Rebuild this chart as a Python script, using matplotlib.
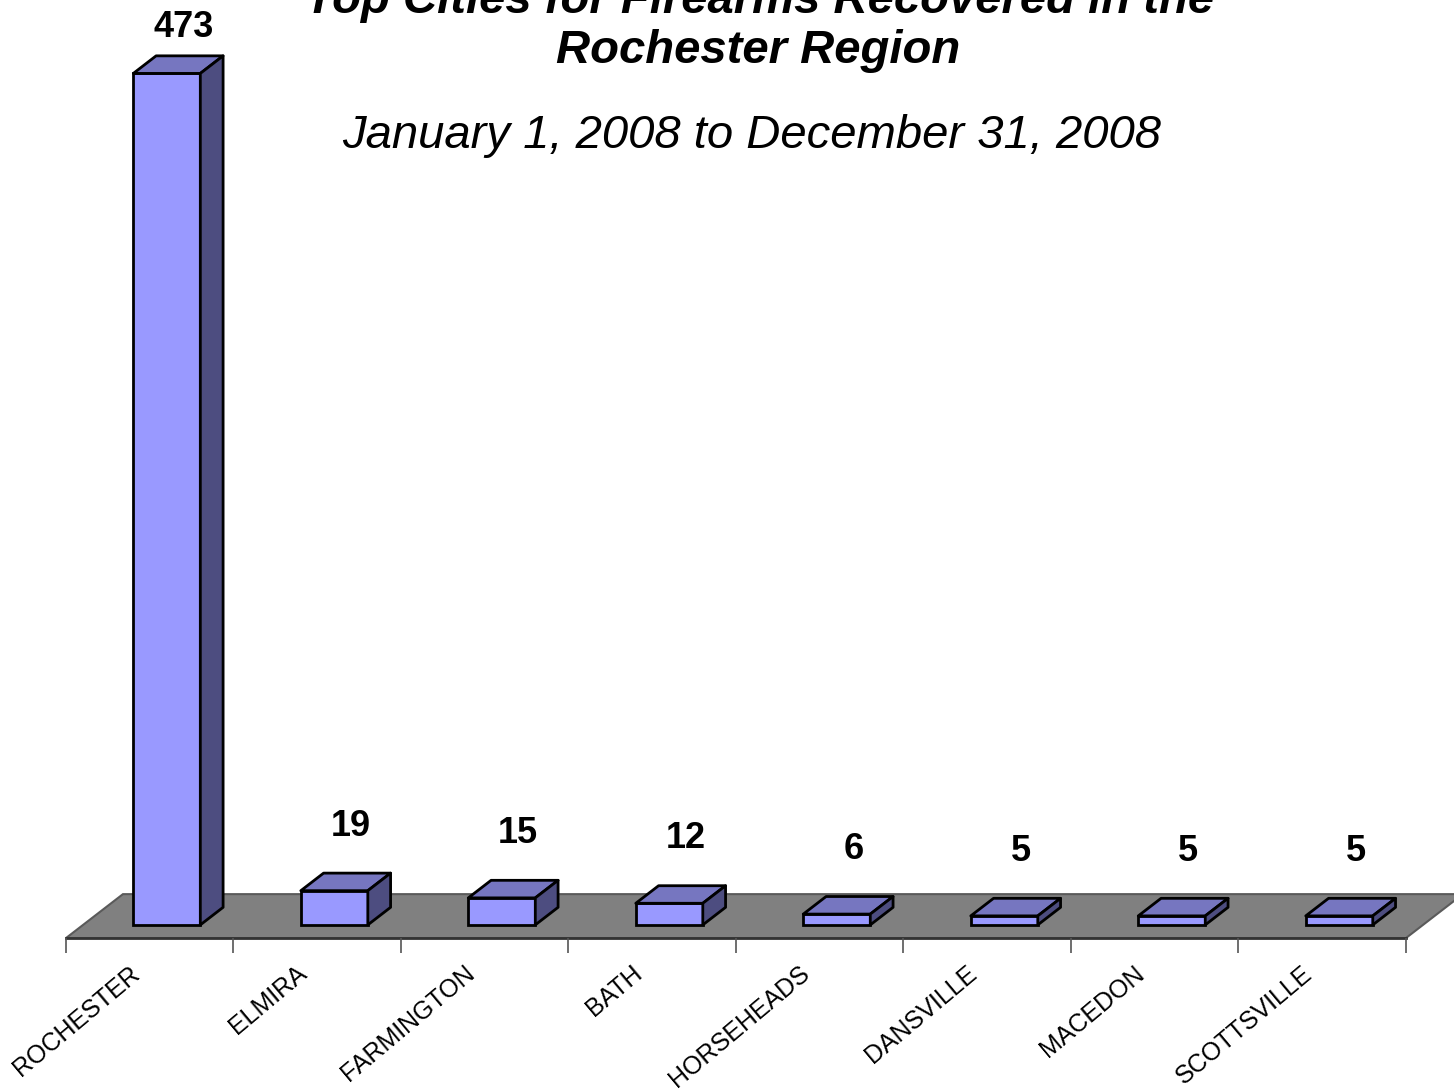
import numpy as np
import matplotlib.pyplot as plt
from matplotlib.patches import Polygon

plt.rcParams['font.family'] = ['Liberation Sans', 'DejaVu Sans']

cities = ['ROCHESTER', 'ELMIRA', 'FARMINGTON', 'BATH',
          'HORSEHEADS', 'DANSVILLE', 'MACEDON', 'SCOTTSVILLE']
firearms = [473, 19, 15, 12, 6, 5, 5, 5]

title_lines = ['Top Cities for Firearms Recovered in the', 'Rochester Region']
subtitle = 'January 1, 2008 to December 31, 2008'

# fake 3D: depth moves things right/up
DX, DY = 0.34, 24.4      # full floor depth, in data units
z_front, z_depth = 0.30, 0.40
bar_w = 0.40

fig = plt.figure(figsize=(14.54, 10.90), dpi=100)
ax = fig.add_axes([0, 0, 1, 1])
ymin, ymax = -84.4, 521.1
ax.set_xlim(-0.894, 7.787)
ax.set_ylim(ymin, ymax)
ax.axis('off')

n = len(cities)
x = np.arange(n)

# floor
floor = Polygon([(-0.5, 0), (n - 0.5, 0), (n - 0.5 + DX, DY), (-0.5 + DX, DY)],
                closed=True, facecolor='#808080', edgecolor='#5a5a5a', lw=1.5, zorder=1)
ax.add_patch(floor)
ax.plot([-0.5, n - 0.5], [0, 0], color='#333333', lw=2, zorder=2)

# category ticks and labels
ax.vlines(np.arange(n + 1) - 0.5, -8.5, 0, color='#555555', lw=1.2, zorder=2)
for xi, name in zip(x, cities):
    ax.text(xi - 0.08, -18, name, rotation=40, rotation_mode='anchor',
            ha='right', va='center', fontsize=18, zorder=3)

# bars: front face, top, side
fx = x + z_front * DX
fy = z_front * DY
ddx, ddy = z_depth * DX, z_depth * DY
ax.bar(fx, firearms, width=bar_w, bottom=fy, color='#9999ff',
       edgecolor='black', lw=2, zorder=4)
for xc, v in zip(fx, firearms):
    l, r = xc - bar_w / 2, xc + bar_w / 2
    top = fy + v
    ax.add_patch(Polygon([(l, top), (r, top), (r + ddx, top + ddy), (l + ddx, top + ddy)],
                         closed=True, facecolor='#7676c0', edgecolor='black', lw=2,
                         joinstyle='round', zorder=4))
    ax.add_patch(Polygon([(r, fy), (r + ddx, fy + ddy), (r + ddx, top + ddy), (r, top)],
                         closed=True, facecolor='#4d4d80', edgecolor='black', lw=2,
                         joinstyle='round', zorder=4))
    # label above the bar, kept inside the figure for the tall one
    ly = min(top + ddy + 26, ymax - 15.5)
    ax.text(xc + ddx / 2 + 0.03, ly, str(v), ha='center', va='center',
            fontsize=26, fontweight='bold', zorder=5)

# titles
fig.text(0.5227, 1 - 13 / 1090, title_lines[0], ha='center', va='baseline',
         fontsize=34, fontweight='bold', fontstyle='italic')
fig.text(0.5213, 1 - 63 / 1090, title_lines[1], ha='center', va='baseline',
         fontsize=34, fontweight='bold', fontstyle='italic')
fig.text(0.5172, 1 - 148 / 1090, subtitle, ha='center', va='baseline',
         fontsize=34, fontstyle='italic')

fig.savefig('out.png', dpi=100)
